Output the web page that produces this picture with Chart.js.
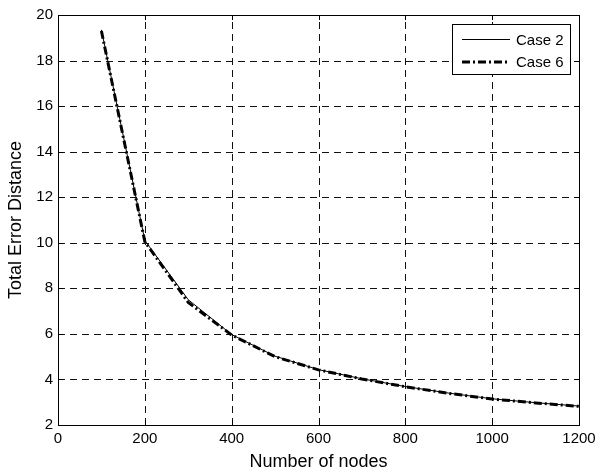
<!DOCTYPE html>
<html><head><meta charset="utf-8">
<script src="https://cdn.jsdelivr.net/npm/chart.js@4/dist/chart.umd.min.js"></script>
<style>html,body{margin:0;padding:0;background:#fff}#wrap{width:596px;height:473px;position:relative}</style>
</head><body><div id="wrap"><canvas id="c" width="596" height="473"></canvas></div>
<script>
const nodes = [100,200,300,400,500,600,700,800,900,1000,1100,1200];
const case2 = [19.35,10.1,7.5,5.97,5.02,4.43,4.03,3.69,3.40,3.15,2.98,2.83];
const case6 = [19.3,10.05,7.38,5.95,5.0,4.42,4.02,3.68,3.39,3.14,2.97,2.82];
const seriesNames = ['Case 2','Case 6'];
const xTicks = [0,200,400,600,800,1000,1200];
const yTicks = [2,4,6,8,10,12,14,16,18,20];
const FONT = 'Liberation Sans, Arial, sans-serif';

const legendPlugin = {
  id:'boxLegend',
  afterDraw(chart){
    const ctx = chart.ctx;
    ctx.save();
    const x0=452.5,y0=24.5,w=118,h=50;
    ctx.fillStyle='#fff';ctx.fillRect(x0,y0,w,h);
    ctx.strokeStyle='#000';ctx.lineWidth=1;ctx.strokeRect(x0,y0,w,h);
    const ds = chart.data.datasets;
    const rows=[39.5,62];
    ds.forEach((d,i)=>{
      ctx.beginPath();
      ctx.lineWidth=d.borderWidth;
      ctx.setLineDash(d.borderDash||[]);
      ctx.strokeStyle='#000';
      ctx.moveTo(462,rows[i]);ctx.lineTo(510,rows[i]);ctx.stroke();
      ctx.setLineDash([]);
      ctx.fillStyle='#000';ctx.font='15px '+FONT;ctx.textBaseline='middle';ctx.textAlign='left';
      ctx.fillText(d.label,516,Math.round(rows[i])+1);
    });
    ctx.restore();
  }
};
const gridPlugin = {
  id:'dashGrid',
  beforeDatasetsDraw(chart){
    const {ctx,chartArea:a}=chart;
    const xs=chart.scales.x, ys=chart.scales.y;
    ctx.save();ctx.strokeStyle='#111';ctx.lineWidth=1;ctx.setLineDash([7,5]);
    ctx.beginPath();
    xTicks.slice(1,-1).forEach(v=>{const p=Math.round(xs.getPixelForValue(v))+0.5;ctx.moveTo(p,a.bottom);ctx.lineTo(p,a.top);});
    yTicks.slice(1,-1).forEach(v=>{const p=Math.round(ys.getPixelForValue(v))+0.5;ctx.moveTo(a.left,p);ctx.lineTo(a.right,p);});
    ctx.stroke();ctx.restore();
  }
};
const frame = {
  id:'frame',
  afterDatasetsDraw(chart){
    const {ctx,chartArea:a}=chart;
    ctx.save();ctx.strokeStyle='#000';ctx.lineWidth=1;ctx.setLineDash([]);
    ctx.strokeRect(Math.round(a.left)+0.5,Math.round(a.top)+0.5,Math.round(a.right-a.left),Math.round(a.bottom-a.top));
    const xs=chart.scales.x, ys=chart.scales.y;
    ctx.beginPath();
    xTicks.forEach(v=>{const p=Math.round(xs.getPixelForValue(v))+0.5;ctx.moveTo(p,a.bottom);ctx.lineTo(p,a.bottom-5);ctx.moveTo(p,a.top);ctx.lineTo(p,a.top+5);});
    yTicks.forEach(v=>{const p=Math.round(ys.getPixelForValue(v))+0.5;ctx.moveTo(a.left,p);ctx.lineTo(a.left+5,p);ctx.moveTo(a.right,p);ctx.lineTo(a.right-5,p);});
    ctx.stroke();
    ctx.restore();
  }
};

new Chart(document.getElementById('c'),{
  type:'line',
  data:{datasets:[
    {label:seriesNames[0],data:nodes.map((x,i)=>({x,y:case2[i]})),borderColor:'#000',borderWidth:1,pointRadius:0,tension:0,fill:false},
    {label:seriesNames[1],data:nodes.map((x,i)=>({x,y:case6[i]})),borderColor:'#000',borderWidth:3,borderDash:[8,3,2,3],pointRadius:0,tension:0,fill:false}
  ]},
  options:{
    responsive:false,animation:false,
    layout:{padding:{top:15,right:17,left:0,bottom:0}},
    plugins:{legend:{display:false},tooltip:{enabled:false}},
    scales:{
      x:{type:'linear',min:0,max:1200,
        afterBuildTicks(s){s.ticks=xTicks.map(v=>({value:v}));},
        afterFit(s){s.height=48;s.paddingRight=0;s.paddingLeft=0;},
        grid:{display:false,drawTicks:false},
        border:{display:false},
        ticks:{color:'#000',font:{size:15,family:FONT},padding:5,maxRotation:0,callback:v=>String(v)},
        title:{display:true,text:'Number of nodes',color:'#000',font:{size:18,family:FONT},padding:{top:0,bottom:0}}
      },
      y:{type:'linear',min:2,max:20,
        afterBuildTicks(s){s.ticks=yTicks.map(v=>({value:v}));},
        afterFit(s){s.width=58;s.paddingTop=0;s.paddingBottom=0;},
        grid:{display:false,drawTicks:false},
        border:{display:false},
        ticks:{color:'#000',font:{size:15,family:FONT},padding:5,callback:v=>String(v)},
        title:{display:true,text:'Total Error Distance',color:'#000',font:{size:18,family:FONT},padding:{top:5,bottom:0}}
      }
    }
  },
  plugins:[gridPlugin,frame,legendPlugin]
});
</script></body></html>
